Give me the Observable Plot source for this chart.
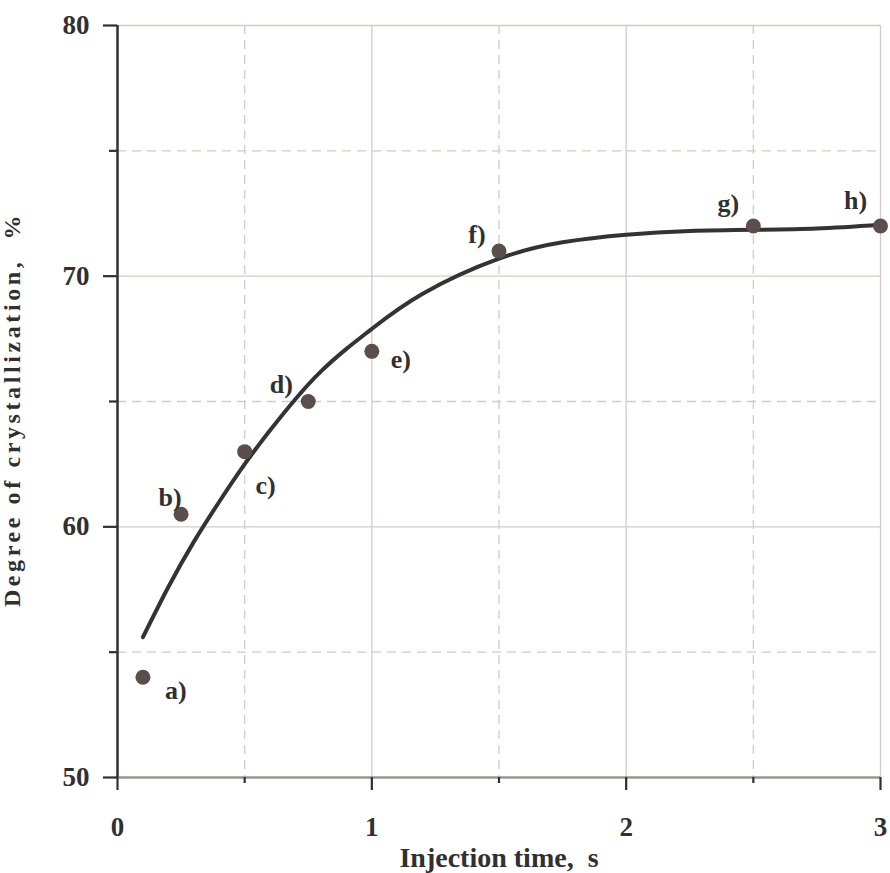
<!DOCTYPE html>
<html>
<head>
<meta charset="utf-8">
<script src="https://cdn.jsdelivr.net/npm/d3@7"></script>
<script src="https://cdn.jsdelivr.net/npm/@observablehq/plot@0.6"></script>
<style>
  html, body { margin: 0; padding: 0; background: #fff; }
  #chart { width: 890px; height: 873px; overflow: hidden; }
</style>
</head>
<body>
<div id="chart"></div>
<script>
// Measured points
const pointLabels = ["a)", "b)", "c)", "d)", "e)", "f)", "g)", "h)"];
const pointX = [0.1, 0.25, 0.5, 0.75, 1.0, 1.5, 2.5, 3.0];
const pointY = [54.0, 60.5, 63.0, 65.0, 67.0, 71.0, 72.0, 72.0];

// Fitted curve
const curveX = [0.1, 0.2, 0.3, 0.4, 0.5, 0.6, 0.7, 0.8, 0.9, 1.0, 1.2, 1.5, 1.75, 2.0, 2.25, 2.5, 2.75, 3.0];
const curveY = [55.6, 57.6, 59.4, 61.0, 62.5, 63.85, 65.1, 66.2, 67.1, 67.9, 69.3, 70.7, 71.35, 71.65, 71.8, 71.85, 71.9, 72.05];

// Axis ticks
const xMajor = [0, 1, 2, 3];
const xMinor = [0.5, 1.5, 2.5];
const yMajor = [50, 60, 70, 80];
const yMinor = [55, 65, 75];

const xTitle = "Injection time,  s";
const yTitle = "Degree of crystallization,  %";

const points = pointX.map((x, i) => ({x, y: pointY[i], label: pointLabels[i]}));
const curve = curveX.map((x, i) => ({x, y: curveY[i]}));

// label placement (layout, not data)
const offsets = {
  "a)": [33, 13], "b)": [-11, -17], "c)": [21, 34], "d)": [-27, -17],
  "e)": [29, 8], "f)": [-22, -16], "g)": [-25, -22], "h)": [-25, -25]
};

const ink = "#303030";
const gridCol = "#d4ccc8";
const font = "'Liberation Serif', 'Times New Roman', serif";

const labelMarks = points.map(p => Plot.text([p], {
  x: "x", y: "y", text: "label",
  dx: offsets[p.label][0], dy: offsets[p.label][1],
  fontSize: 26, fontWeight: "bold", fill: ink, fontFamily: font
}));

const chart = Plot.plot({
  width: 890,
  height: 873,
  marginLeft: 117,
  marginRight: 10,
  marginTop: 25,
  marginBottom: 96,
  style: {fontFamily: font, background: "#fff", color: ink},
  x: {domain: [0, 3]},
  y: {domain: [50, 80]},
  marks: [
    Plot.gridX(xMinor, {stroke: gridCol, strokeOpacity: 1, strokeWidth: 1.3, strokeDasharray: "9,6"}),
    Plot.gridY(yMinor, {stroke: gridCol, strokeOpacity: 1, strokeWidth: 1.3, strokeDasharray: "9,6"}),
    Plot.gridX(xMajor.filter(d => d > 0), {stroke: gridCol, strokeOpacity: 1, strokeWidth: 1.3}),
    Plot.gridY(yMajor.filter(d => d > 50), {stroke: gridCol, strokeOpacity: 1, strokeWidth: 1.3}),
    Plot.ruleY([50], {stroke: "#9a9594", strokeWidth: 2.5}),
    Plot.ruleX([0], {stroke: ink, strokeWidth: 2.5}),
    Plot.axisX(xMajor, {tickSize: 13, tickPadding: 26, stroke: ink, strokeWidth: 2.2, fontSize: 27, fontWeight: "bold", fill: ink, fontFamily: font, label: null, tickFormat: d => String(d)}),
    Plot.axisX(xMinor, {tickSize: 6, stroke: ink, strokeWidth: 2.2, tickFormat: () => "", label: null}),
    Plot.axisY(yMajor, {tickSize: 14, tickPadding: 14, stroke: ink, strokeWidth: 2.2, fontSize: 27, fontWeight: "bold", fill: ink, fontFamily: font, label: null, tickFormat: d => String(d)}),
    Plot.axisY(yMinor, {tickSize: 8, stroke: ink, strokeWidth: 2.2, tickFormat: () => "", label: null}),
    Plot.line(curve, {x: "x", y: "y", stroke: "#333", strokeWidth: 4, curve: "natural"}),
    Plot.dot(points, {x: "x", y: "y", r: 7.5, fill: "#5a4f4c", stroke: "none"}),
    ...labelMarks,
    Plot.text([xTitle], {frameAnchor: "bottom", text: d => d, dy: 89, fontSize: 28, fontWeight: "bold", fill: ink, fontFamily: font}),
    Plot.text([yTitle], {frameAnchor: "left", textAnchor: "middle", text: d => d, dx: -105, dy: 8, rotate: -90, fontSize: 24, fontWeight: "bold", fill: ink, fontFamily: font})
  ]
});
d3.select(chart).selectAll("text")
  .filter(function() { return this.textContent === yTitle; })
  .style("letter-spacing", "3.6px");
document.getElementById("chart").appendChild(chart);
</script>
</body>
</html>
